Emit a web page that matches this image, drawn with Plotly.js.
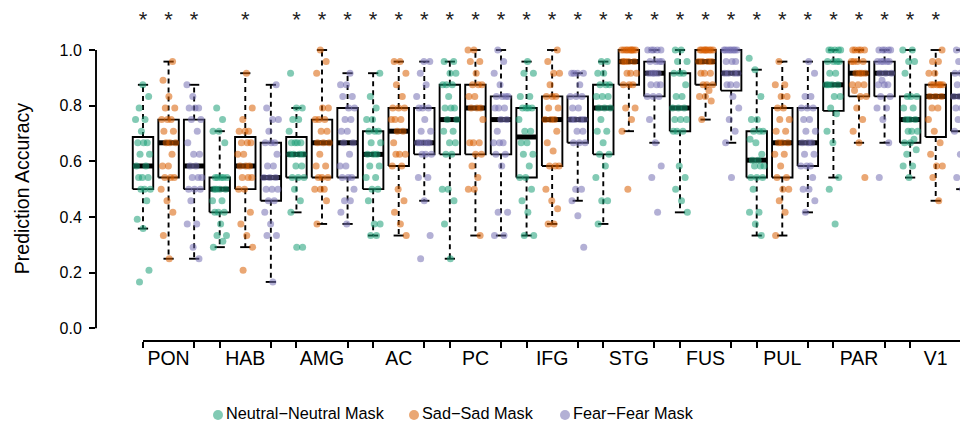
<!DOCTYPE html>
<html><head><meta charset="utf-8">
<script src="https://cdn.plot.ly/plotly-3.0.1.min.js"></script>
<style>html,body{margin:0;padding:0;background:#fff}</style>
</head><body>
<div id="chart" style="width:960px;height:422px"></div>
<script>
// ---------------- data ----------------
const regions = ['PON','HAB','AMG','AC','PC','IFG','STG','FUS','PUL','PAR','V1'];
const conditions = ['Neutral\u2212Neutral Mask','Sad\u2212Sad Mask','Fear\u2212Fear Mask'];
const TRIALS = 24; // values below: correct trials out of 24 per subject
const neutral = [
  [4,5,8.6,9.4,11,12,12,12,13,13,13,14,14,15,15,16,16,16,17,18,18,19,20,21],
  [7,7.5,8,8,9,10,10,10,11,11,12,12,12,12,13,13,13,13,13,16,17,17,18,19],
  [7,7,10,11,12,13,13,13,14,14,15,15,15,15,16,16,16,16,17,18,18,19,19,22],
  [8,8,9,9,11,12,12,13,13,14,14,15,15,15,16,16,17,17,17,18,18,19,20,22],
  [6,9,11,12,12,15,15,16,16,17,17,18,18,19,19,19,20,21,21,21,22,22,23,23],
  [8,8,10,11,12,13,13,14,15,15,16,16,17,17,18,19,19,19,19,20,20,22,22,23],
  [9,11,11,13,14,15,15,16,17,17,18,19,19,19,20,20,20,21,21,21,22,22,23,23],
  [10,11,12,13,14,17,17,17,18,18,18,19,19,19,20,20,21,22,22,22,23,23,24,24],
  [8,9,10,10,12,13,13,13,14,14,14,14.5,14.5,15,16,16.3,17,17,17,18,18,20,22.3,23.3],
  [9,12,13,16,17,18.5,19,20,20,21,21,21,21,22,22,23,23,23,23,24,24,24,24,24],
  [13,14,14,15,15.4,16,16,16.3,17,17,17,18,18,18,19,19,20,20,20,22,23,23,24,24]
];
const sad = [
  [6,8,10,11,12,13,13,13,14,14,15,16,16,16,17,17,18,18,18,19,19,20,21.4,23],
  [5,7,8,9,10,12,12,13,13,13,14,14,14,15,15,16,16,16,17,17,17,18,19,22],
  [9,11,12,12,12,13,13,13,14,14,15,16,16,16,17,17,18,18,18,19,19,22,23,24],
  [8,9,10,11,12,14,14,15,15,15,16,17,17,18,18,18,19,19,19,20,21,22,23,23],
  [8,12,12,13,14,15,15,16,16,16,18,19,19,19,20,20,21,21,21,22,23,23,24,24],
  [9,9,10.3,11,12,14,14,14,15.3,16,17,18,18,18,19,19,20,20,20,21,22,22,23,24],
  [12,17,18,19,19,21,21,21,22,22,22,23,23,23,23,24,24,24,24,24,24,24,24,24],
  [18,19.6,20,20,20.5,21,21,21,22,22,22,23,23,23,23,24,24,24,24,24,24,24,24,24],
  [8,10,11,12,12,13,13,14,15,15,16,16,16,17,17,18,18,19,19,20,20,21,21,23],
  [13,16,17,18,19,20,20,20.5,21,21,21,22,22,22,22,23,23,23,23,24,24,24,24,24],
  [11,13,14,14,15,16,17,18,19,19,20,20,20,21,21,21,21,21,21,22,22,23,23,24]
];
const fear = [
  [6,7,9,9,11,12,12,12,13,13,13,14,14,15,15,16,17,18,18,19,19,19,20,21],
  [4,8,8,9,10,11,11,12,12,12,13,13,13,14,14,15,16,16,16,17,18,18,19,21],
  [9,10,11,11,12,13,13,13,14,14,15,16,16,17,17,18,18,19,19,20,20,21,21,22],
  [6,8,11,13,13,15,15,15,16,16,16,16,16,17,17,18,19,19,19,20,21,22,23,23],
  [8,8,10,10,14,15,15,16,16,16,17,18,18,19,19,19,20,20,20,20,21,22,23,24],
  [7,9.7,11,12,12,16,16,16,17,17,18,18,18,18,19,19,20,20,20,21,22,22,22,22],
  [10,13,14,16,18,20,20,20,21,21,21,22,22,22,22,23,23,23,23,24,24,24,24,24],
  [13,16,17,18,19,20,21,21,21,22,22,22,22,23,23,23,24,24,24,24,24,24,24,24],
  [10,11,12,12,13,14,14,14,15,15,16,16,16,17,17,18,18,19,19,19,20,20,22,23],
  [13,16,18,19,19,20,20,21,21,21,21.4,22,22,22,23,23,23,23,23,24,24,24,24,24],
  [7,12,13,14,15,17,17,18,19,19,19,20,20,20,21,21,21,22,22,22,23,23,24,24]
];
// significance markers (*) per region
const neutralSig = [1,0,1,1,1,1,1,1,1,1,1];
const sadSig     = [1,1,1,1,1,1,1,1,1,1,1];
const fearSig    = [1,0,1,1,1,1,1,1,1,1,1];

// ---------------- styling ----------------
const pointColors = ['rgba(27,158,119,0.55)','rgba(217,95,2,0.55)','rgba(117,112,179,0.55)'];
const FONT = 'Liberation Sans, Arial, Helvetica, sans-serif';
const W = 960, H = 422, ML = 96, MR = 0, MT = 0, MB = 81;
const XR = [-0.838, 32.95], YR = [-0.0456, 1.1797];
const BOXHW = 0.4, CAPHW = 0.2;

// ---------------- stats (R boxplot: Tukey hinges, 1.5 IQR whiskers) ----------------
function fivenum(a){
  const s=[...a].sort((x,y)=>x-y), n=s.length;
  const n4=Math.floor((n+3)/2)/2;
  const d=[1,n4,(n+1)/2,n+1-n4,n];
  return d.map(v=>0.5*(s[Math.floor(v)-1]+s[Math.ceil(v)-1]));
}
const series=[neutral,sad,fear];
const sigs=[neutralSig,sadSig,fearSig];
const boxX=[],boxY=[],whX=[],whY=[],capX=[],capY=[],medX=[],medY=[];
const ptTraces=[];
const starX=[],starY=[];
for(let c=0;c<3;c++){ ptTraces.push({x:[],y:[]}); }
for(let r=0;r<regions.length;r++){
  for(let c=0;c<3;c++){
    const pos=r*3+c+1;
    const vals=series[c][r].map(v=>v/TRIALS);
    const f=fivenum(vals);
    const q1=f[1],med=f[2],q3=f[3],iqr=q3-q1;
    const lo=Math.min(...vals.filter(v=>v>=q1-1.5*iqr-1e-9));
    const hi=Math.max(...vals.filter(v=>v<=q3+1.5*iqr+1e-9));
    boxX.push(pos-BOXHW,pos+BOXHW,pos+BOXHW,pos-BOXHW,pos-BOXHW,null);
    boxY.push(q1,q1,q3,q3,q1,null);
    medX.push(pos-BOXHW,pos+BOXHW,null); medY.push(med,med,null);
    whX.push(pos,pos,null,pos,pos,null); whY.push(q3,hi,null,q1,lo,null);
    capX.push(pos-CAPHW,pos+CAPHW,null,pos-CAPHW,pos+CAPHW,null); capY.push(hi,hi,null,lo,lo,null);
    vals.forEach((v,i)=>{
      const j=(((i*0.6180339+pos*0.2718)%1)-0.5)*0.6;
      ptTraces[c].x.push(pos+j); ptTraces[c].y.push(v);
    });
    if(sigs[c][r]){ starX.push(pos); starY.push(1.102); }
  }
}
const traces=[
  {type:'scatter',mode:'lines',x:boxX,y:boxY,line:{color:'#000',width:1.9},hoverinfo:'skip',showlegend:false},
  {type:'scatter',mode:'lines',x:whX,y:whY,line:{color:'#000',width:1.9,dash:'5px,4px'},hoverinfo:'skip',showlegend:false},
  {type:'scatter',mode:'lines',x:capX,y:capY,line:{color:'#000',width:1.9},hoverinfo:'skip',showlegend:false},
  {type:'scatter',mode:'lines',x:medX,y:medY,line:{color:'#000',width:5},hoverinfo:'skip',showlegend:false}
];
for(let c=0;c<3;c++){
  traces.push({type:'scatter',mode:'markers',name:conditions[c],x:ptTraces[c].x,y:ptTraces[c].y,
    marker:{size:7,color:pointColors[c],line:{width:0}},showlegend:false});
}
traces.push({type:'scatter',mode:'text',x:starX,y:starY,text:starX.map(()=>'*'),xaxis:'x2',
  textfont:{family:FONT,size:22,color:'#222'},textposition:'middle center',hoverinfo:'skip',showlegend:false,cliponaxis:false});

const mids=regions.map((_,i)=>i*3+2);
const edges=[]; regions.forEach((_,i)=>{edges.push(i*3+1,i*3+3);});
const px2x=p=>(p-ML)/(W-ML-MR), px2y=p=>(H-MB-p)/(H-MB-MT);

const shapes=[
  {type:'line',xref:'x',yref:'paper',x0:1,x1:33,y0:0,y1:0,line:{color:'#000',width:1.9}},
  {type:'line',xref:'paper',yref:'y',x0:0,x1:0,y0:0,y1:1,line:{color:'#000',width:1.9}}
];
const annotations=[
  {xref:'paper',yref:'y',x:px2x(22),y:0.5,text:'Prediction Accuracy',textangle:-90,showarrow:false,
   xanchor:'center',yanchor:'middle',font:{family:FONT,size:19.5,color:'#000'}}
];
const legX=[218,414,565], legTX=[224,420,571];
for(let c=0;c<3;c++){
  shapes.push({type:'circle',xref:'paper',yref:'paper',xsizemode:'pixel',ysizemode:'pixel',
    xanchor:px2x(legX[c]),yanchor:px2y(415),x0:-5,x1:5,y0:-5,y1:5,
    fillcolor:pointColors[c],line:{width:0}});
  annotations.push({xref:'paper',yref:'paper',x:px2x(legTX[c]),y:px2y(413),text:conditions[c],showarrow:false,
    xanchor:'left',yanchor:'middle',font:{family:FONT,size:16.3,color:'#000'}});
}

const layout={
  width:W,height:H,margin:{l:ML,r:MR,t:MT,b:MB},
  paper_bgcolor:'#fff',plot_bgcolor:'#fff',showlegend:false,
  font:{family:FONT,color:'#000'},
  xaxis:{range:XR,tickvals:mids,ticktext:regions,ticks:'',showline:false,showgrid:false,zeroline:false,
    tickfont:{family:FONT,size:19.5,color:'#000'},ticklabelstandoff:3},
  xaxis2:{range:XR,overlaying:'x',anchor:'y',side:'bottom',tickvals:edges,ticks:'outside',ticklen:6,tickwidth:1.9,
    tickcolor:'#000',showticklabels:false,showline:false,showgrid:false,zeroline:false},
  yaxis:{range:YR,tickvals:[0,0.2,0.4,0.6,0.8,1.0],ticktext:['0.0','0.2','0.4','0.6','0.8','1.0'],ticks:'outside',
    ticklen:6,tickwidth:1.9,tickcolor:'#000',showline:false,showgrid:false,zeroline:false,
    tickfont:{family:FONT,size:16,color:'#000'},ticklabelstandoff:4},
  shapes:shapes,annotations:annotations
};
Plotly.newPlot('chart',traces,layout,{staticPlot:true,displayModeBar:false});
</script>
</body></html>
